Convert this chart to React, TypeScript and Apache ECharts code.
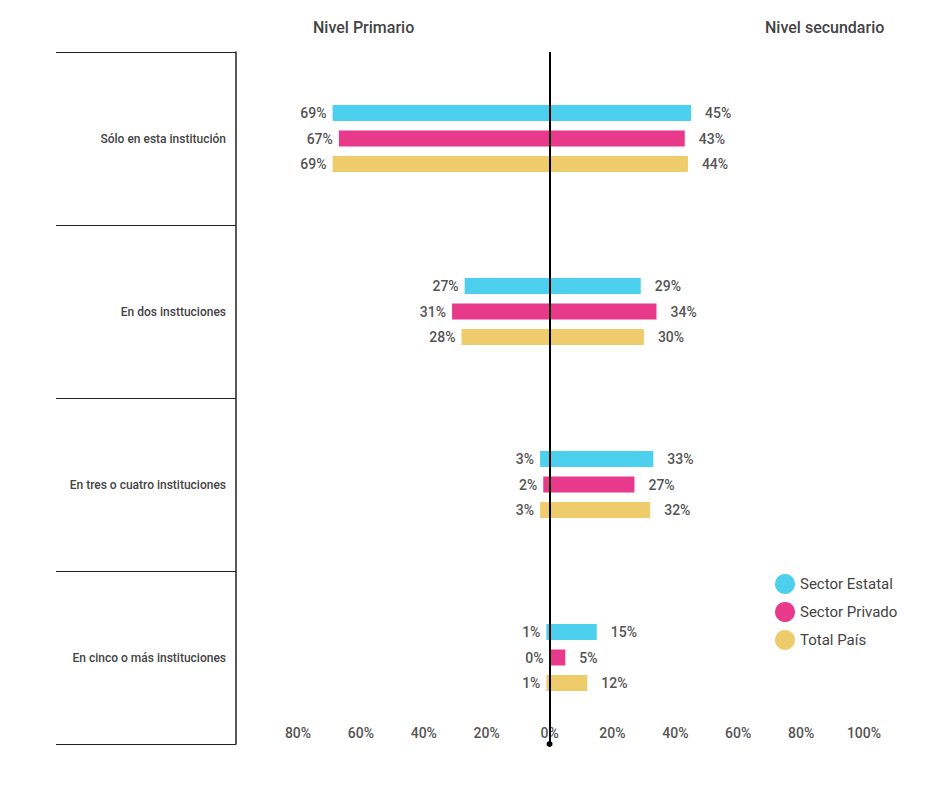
import { useRef, useEffect } from 'react'
import * as echarts from 'echarts'

const categories = ['Sólo en esta institución', 'En dos insttuciones', 'En tres o cuatro instituciones', 'En cinco o más instituciones']
const seriesNames = ['Sector Estatal', 'Sector Privado', 'Total País']
const colors = ['#4dcfee', '#e8398a', '#eecb6b']
// Nivel primario (drawn to the left)
const primEstatal = [69, 27, 3, 1]
const primPrivado = [67, 31, 2, 0]
const primTotal = [69, 28, 3, 1]
// Nivel secundario (drawn to the right)
const secEstatal = [45, 29, 33, 15]
const secPrivado = [43, 34, 27, 5]
const secTotal = [44, 30, 32, 12]

function App() {
  const chartRef = useRef<HTMLDivElement>(null)

  useEffect(() => {
    if (!chartRef.current) return
    const chart = echarts.init(chartRef.current, null, { renderer: 'svg' })
    const prim = [primEstatal, primPrivado, primTotal]
    const sec = [secEstatal, secPrivado, secTotal]
    const labelStyle = { color: '#555', fontSize: 14, fontFamily: 'Roboto', fontWeight: 500 }
    const series: any[] = []
    for (let i = 0; i < 3; i++) {
      series.push({
        name: seriesNames[i],
        type: 'bar',
        stack: 's' + i,
        barWidth: 16,
        barGap: '60%',
        itemStyle: { color: colors[i] },
        data: prim[i].map(v => -v),
        label: { show: true, position: 'left', distance: 6, formatter: (p: any) => Math.abs(p.value) + '%', ...labelStyle },
      })
      series.push({
        name: seriesNames[i],
        type: 'bar',
        stack: 's' + i,
        barWidth: 16,
        barGap: '60%',
        itemStyle: { color: colors[i] },
        data: sec[i],
        label: { show: true, position: 'right', distance: 14, formatter: '{c}%', ...labelStyle },
        markLine: i === 0 ? {
          silent: true,
          symbol: ['none', 'circle'],
          symbolSize: 6,
          lineStyle: { color: '#000', width: 2, type: 'solid' },
          label: { show: false },
          data: [{ xAxis: 0 }],
        } : undefined,
      })
    }
    chart.setOption({
      animation: false,
      textStyle: { fontFamily: 'Roboto' },
      title: [
        { text: 'Nivel Primario', left: 300, top: 6, textStyle: { fontSize: 16, fontWeight: 500, color: '#444' } },
        { text: 'Nivel secundario', left: 752, top: 6, textStyle: { fontSize: 16, fontWeight: 500, color: '#444' } },
      ],
      legend: {
        data: seriesNames,
        orient: 'vertical',
        left: 762,
        top: 561,
        icon: 'circle',
        itemWidth: 20,
        itemHeight: 20,
        itemGap: 8,
        textStyle: { fontSize: 15, color: '#444' },
      },
      grid: { left: 290, right: 68, top: 44, bottom: 36 },
      xAxis: {
        type: 'value',
        min: -80,
        max: 100,
        interval: 20,
        axisLine: { show: false },
        axisTick: { show: false },
        splitLine: { show: false },
        axisLabel: {
          inside: true,
          margin: 4,
          fontSize: 14,
          color: '#555',
          fontWeight: 500,
          formatter: (v: number) => Math.abs(v) + '%',
        },
      },
      yAxis: {
        type: 'category',
        data: categories,
        inverse: true,
        offset: 62,
        axisLine: { show: true, onZero: false, lineStyle: { color: '#222', width: 1.5 } },
        axisTick: { show: true, length: 180, lineStyle: { color: '#222' } },
        axisLabel: { margin: 10, fontSize: 12, color: '#444', fontWeight: 500 },
      },
      series,
    })
    return () => chart.dispose()
  }, [])

  return <div ref={chartRef} style={{ width: '924px', height: '772px' }}></div>
}

export default App
